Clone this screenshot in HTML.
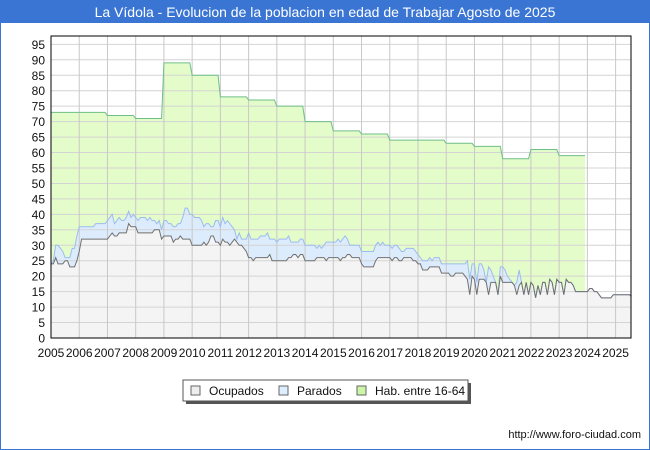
<!DOCTYPE html>
<html><head><meta charset="utf-8"><style>
body{margin:0;background:#fff;font-family:"Liberation Sans","DejaVu Sans",sans-serif}
#wrap{position:relative;width:648px;height:448px;border:1px solid #3a75d4;overflow:hidden}
#title{position:absolute;left:0;top:0;width:648px;height:22px;background:#3a75d4;color:#fff;font-size:14px;text-align:center;line-height:22px}
svg{position:absolute;left:0;top:0}
</style></head><body>
<div id="wrap">
<div id="title">La Vídola - Evolucion de la poblacion en edad de Trabajar Agosto de 2025</div>
<svg id="chart" width="650" height="450"></svg>
</div>
<script>
const years=[2005,2006,2007,2008,2009,2010,2011,2012,2013,2014,2015,2016,2017,2018,2019,2020,2021,2022,2023,2024,2025];
const yTicks=[0,5,10,15,20,25,30,35,40,45,50,55,60,65,70,75,80,85,90,95];
const habYear=[73,73,72,71,89,85,78,77,75,70,67,66,64,64,63,62,58,61,59];
const ocupados=[
24,24,26,24,24,24,25,25,23,23,23,25,
28,32,32,32,32,32,32,32,32,32,32,32,
32,33,34,33,33,34,34,34,34,37,36,36,
36,34,34,34,34,34,34,34,35,35,35,32,
33,33,33,33,31,32,32,33,32,32,32,32,
30,30,30,30,30,31,30,31,33,33,31,31,
30,32,31,31,30,31,32,31,30,30,29,28,
26,26,25,26,26,26,26,26,26,27,25,25,
25,25,25,25,25,26,26,27,27,26,27,27,
25,25,25,25,25,26,26,26,26,25,26,26,
26,26,26,25,26,26,27,27,26,26,26,26,
24,23,23,23,23,23,25,26,26,26,26,26,
26,25,26,26,25,25,26,26,26,26,25,25,
24,24,22,22,22,23,23,23,23,23,21,21,
21,21,20,20,21,21,21,21,20,19,14,20,
19,14,19,19,19,18,14,18,18,18,14,20,
18,18,18,18,18,17,14,17,18,14,18,14,
18,17,13,17,14,18,18,14,19,18,14,19,
18,18,14,19,18,18,17,15,15,15,15,15,
15,16,16,15,15,14,13,13,13,13,13,14,
14,14,14,14,14,14,14,13];
const parados=[
0,1,4,6,5,4,1,1,3,6,6,8,
8,4,4,4,4,4,4,5,5,5,5,5,
6,6,6,4,5,5,4,4,5,4,3,4,
3,4,5,5,5,4,5,4,3,2,3,3,
5,5,4,4,5,4,5,4,7,10,10,8,
10,9,9,9,8,5,7,6,3,3,7,7,
6,7,6,7,7,5,3,1,4,2,3,4,
8,6,7,6,6,7,7,7,8,5,7,7,
6,7,7,7,7,7,5,4,4,5,5,5,
5,5,5,5,5,3,4,3,4,6,5,5,
5,5,6,6,6,7,5,3,4,4,4,4,
4,5,5,5,5,5,5,5,4,5,4,4,
4,4,4,4,4,3,2,3,3,3,4,3,
3,2,3,3,3,3,2,3,3,3,3,3,
3,3,4,4,3,3,3,3,4,6,5,4,
5,4,5,5,3,0,9,4,2,0,0,3,
5,4,2,1,0,0,4,5,0,0,0,0,
0,0,0,0,0,0,0,0,0,0,0,0,
0,0,0,0,0,0,0,0,0,0,0,0,
0,0,0,0,0,0,0,0,0,0,0,0,
0,0,0,0,0,0,0,0];
const NS='http://www.w3.org/2000/svg';
const svg=document.getElementById('chart');
const L=50,R=630,T=35,B=337,yMax=97.7,yearW=28.23;
const X=i=>L+i*yearW/12;
const Y=v=>B-v*(B-T)/yMax;
function mk(tag,attrs,parent){const e=document.createElementNS(NS,tag);for(const k in attrs)e.setAttribute(k,attrs[k]);(parent||svg).appendChild(e);return e;}
const clip=mk('clipPath',{id:'pc'});mk('rect',{x:L,y:T,width:R-L,height:B-T},clip);
const n=ocupados.length;
const hab=[];for(let i=0;i<n;i++){const yi=Math.floor(i/12);hab.push(yi<habYear.length?habYear[yi]:null);}
const total=ocupados.map((o,i)=>o+parados[i]);
const g=mk('g',{'clip-path':'url(#pc)'});


function pts(vals){let p=[];for(let i=0;i<vals.length;i++){if(vals[i]==null)break;p.push([X(i),Y(vals[i])]);}return p;}
function fillArea(vals,fill,name){
  const p=pts(vals);const last=p.length-1;
  const d='M'+p[0][0]+','+B+' '+p.map(q=>'L'+q[0]+','+q[1]).join(' ')+' L'+p[last][0]+','+B+'Z';
  const a=mk('path',{d:d,fill:fill,stroke:'none'},g);
  
  
}
function lineOf(vals,stroke,name){
  const p=pts(vals);
  const l=mk('path',{d:'M'+p.map(q=>q[0]+','+q[1]).join(' L'),fill:'none',stroke:stroke,'stroke-width':1},g);
  
  
}
fillArea(hab,'#e4fcc9','hab-series');
fillArea(total,'#ddecfd','parados-series');
fillArea(ocupados,'#f4f4f4','ocupados-series');
for(const t of yTicks){const ln=mk('line',{x1:L,x2:R,y1:Y(t),y2:Y(t),stroke:'#d4d4d4','stroke-width':1},g);

}
years.forEach((yr,k)=>{const x=L+k*yearW;const ln=mk('line',{x1:x,x2:x,y1:T,y2:B,stroke:'#c8c8c8','stroke-width':1},g);

});
lineOf(hab,'#6fbf88','hab-series');
lineOf(total,'#9bbcf0','parados-series');
lineOf(ocupados,'#707070','ocupados-series');
const fr=mk('rect',{x:L,y:T,width:R-L,height:B-T,fill:'none',stroke:'#000','stroke-width':1});


for(const t of yTicks){const tx=mk('text',{x:44,y:Y(t)+4.5,'text-anchor':'end','font-size':12,fill:'#111'});tx.textContent=t;

}
years.forEach((yr,k)=>{const tx=mk('text',{x:L+k*yearW,y:356,'text-anchor':'middle','font-size':12,fill:'#111'});tx.textContent=yr;

});
const lg=mk('g',{});


mk('rect',{x:185,y:382,width:285,height:21,fill:'#555'},lg);
mk('rect',{x:182,y:379,width:285,height:21,fill:'#fff',stroke:'#555','stroke-width':1},lg);
const items=[['Ocupados','#eeeeee',190],['Parados','#ddeeff',278],['Hab. entre 16-64','#ccf5a8',356]];
items.forEach(it=>{const e=mk('g',{},lg);


mk('rect',{x:it[2],y:385,width:9,height:9,fill:it[1],stroke:'#666','stroke-width':1},e);
const tx=mk('text',{x:it[2]+18,y:394,'font-size':12,fill:'#111'},e);tx.textContent=it[0];});
const ft=mk('text',{x:640,y:437,'text-anchor':'end','font-size':11,fill:'#111'});ft.textContent='http://www.foro-ciudad.com';


</script>
</body></html>
